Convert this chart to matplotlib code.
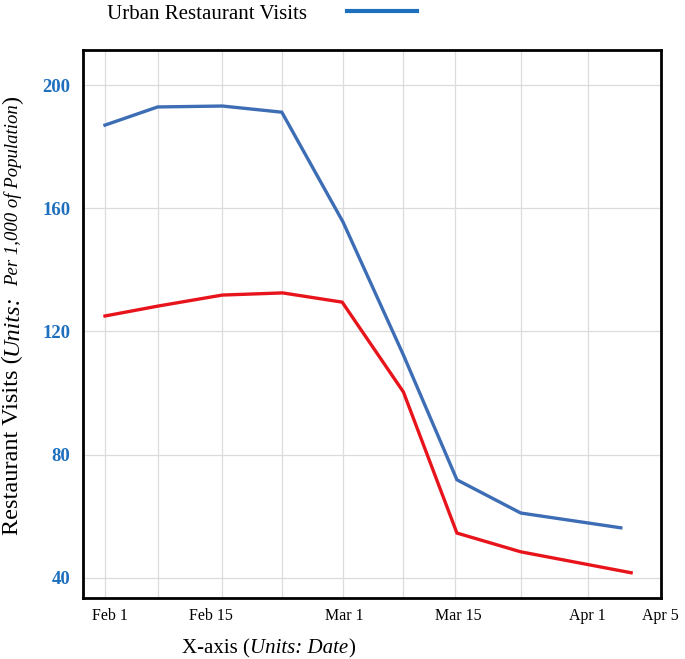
import matplotlib
matplotlib.use('Agg')
import matplotlib.pyplot as plt
from matplotlib.lines import Line2D

plt.rcParams['font.family'] = ['Liberation Serif', 'DejaVu Serif']

# x = days since Feb 1
blue_x = [0, 6.1, 13.6, 20.5, 27.6, 34.6, 40.8, 48.2, 59.8]
blue_y = [187.0, 192.9, 193.2, 191.2, 155.5, 112.3, 71.8, 61.0, 56.2]
red_x = [0, 6.1, 13.6, 20.6, 27.5, 34.6, 40.8, 48.2, 61.0]
red_y = [125.0, 128.2, 131.8, 132.5, 129.5, 100.3, 54.5, 48.4, 41.6]

date_labels = ['Feb 1', 'Feb 15', 'Mar 1', 'Mar 15', 'Apr 1', 'Apr 5']
date_pos = [0.6, 12.3, 27.7, 41.0, 55.9, 64.4]
grid_days = [0, 6.1, 13.6, 20.5, 27.6, 34.6, 40.6, 48.2, 56]
y_ticks = [40, 80, 120, 160, 200]

W, H = 685, 659
fig = plt.figure(figsize=(W / 100, H / 100), dpi=100)
ax = fig.add_axes([83 / W, 61 / H, (661 - 83) / W, (598 - 50) / H])

ax.plot(blue_x, blue_y, color='#3d6db5', lw=2.4, solid_joinstyle='miter')
ax.plot(red_x, red_y, color='#e8141c', lw=2.4, solid_joinstyle='miter')

ax.set_xlim(-2.55, 64.46)
ax.set_ylim(33.4, 211.4)

ax.set_xticks(date_pos)
ax.set_xticklabels(date_labels, fontsize=11.5)
ax.set_xticks(grid_days, minor=True)
ax.set_yticks(y_ticks)
ax.set_yticklabels([str(v) for v in y_ticks], fontsize=13.5, fontweight='bold', color='#1f6fbf')
ax.tick_params(axis='both', which='both', length=0)
ax.tick_params(axis='x', pad=7)
ax.tick_params(axis='y', pad=9)
ax.grid(False)
ax.xaxis.grid(True, which='minor', color='#dcdcdc', lw=0.9)
ax.yaxis.grid(True, which='major', color='#dcdcdc', lw=0.9)

for sp in ax.spines.values():
    sp.set_color('black')
    sp.set_linewidth(2)

fig.legend(handles=[Line2D([], [], color='#1f6fbf', lw=3)],
           labels=['Urban Restaurant Visits'],
           loc='upper left', bbox_to_anchor=(107 / W, 1 - 4 / H),
           frameon=False, markerfirst=False, handlelength=3.4,
           handletextpad=1.9, fontsize=15, borderpad=0, borderaxespad=0)

renderer = fig.canvas.get_renderer()


def run_text(x, y, pieces, vertical):
    # pieces: (text, style, size, gap_after_px); x, y in pixels from bottom-left
    for s, style, size, gap in pieces:
        t = fig.text(x / W, y / H, s, fontsize=size, style=style,
                     rotation=90 if vertical else 0, rotation_mode='anchor',
                     ha='left', va='baseline')
        bb = t.get_window_extent(renderer)
        if vertical:
            y += bb.height + gap
        else:
            x += bb.width + gap


# y-axis label
run_text(18, H - 535, [('Restaurant Visits (', 'normal', 17.5, 0),
                       ('Units:', 'italic', 17.5, 9),
                       ('Per 1,000 of Population', 'italic', 13.5, 0),
                       (')', 'normal', 17.5, 0)], vertical=True)

# x-axis label
run_text(182, H - 653, [('X-axis (', 'normal', 15, 0),
                        ('Units: Date', 'italic', 15, 0),
                        (')', 'normal', 15, 0)], vertical=False)

fig.savefig('out.png', dpi=100)
